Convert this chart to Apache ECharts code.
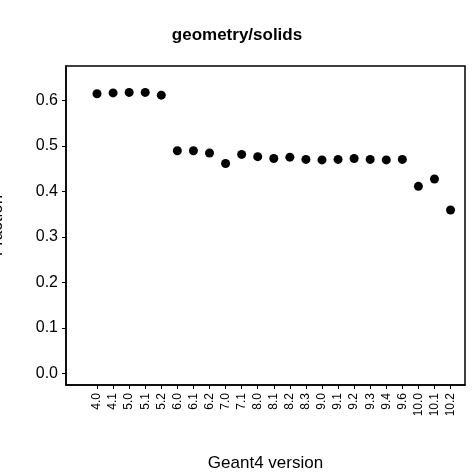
<!DOCTYPE html>
<html>
<head>
<meta charset="UTF-8">
<script src="https://cdn.jsdelivr.net/npm/echarts@6/dist/echarts.min.js"></script>
<style>html,body{margin:0;padding:0;background:#fff}</style>
</head>
<body>
<div id="chart" style="width:474px;height:474px;"></div>
<script>
var versions = ['4.0','4.1','5.0','5.1','5.2','6.0','6.1','6.2','7.0','7.1','8.0','8.1','8.2','8.3','9.0','9.1','9.2','9.3','9.4','9.6','10.0','10.1','10.2'];
var values = [0.614,0.616,0.617,0.617,0.611,0.489,0.489,0.484,0.461,0.481,0.476,0.472,0.475,0.470,0.469,0.470,0.472,0.470,0.469,0.470,0.411,0.427,0.359];
var yTicks = [0, 0.1, 0.2, 0.3, 0.4, 0.5, 0.6];

var chart = echarts.init(document.getElementById('chart'));
var xIdx = versions.map(function (v, i) { return i; });
chart.setOption({
    animation: false,
    title: {
        text: 'geometry/solids', left: 'center', top: 22,
        textStyle: { fontFamily: 'Liberation Sans', fontSize: 17, fontWeight: 'bold', color: '#000' }
    },
    grid: { left: 66, right: 9, top: 66, bottom: 89, outerBoundsMode: 'none', containLabel: false },
    xAxis: {
        type: 'value', min: -1.93, max: 22.9,
        name: 'Geant4 version', nameLocation: 'middle', nameGap: 70,
        nameTextStyle: { fontFamily: 'Liberation Sans', fontSize: 17, color: '#000' },
        axisLine: { onZero: false, lineStyle: { color: '#000', width: 1.5 } },
        axisTick: { customValues: xIdx, length: 4, lineStyle: { color: '#000' } },
        axisLabel: {
            customValues: xIdx, rotate: 90, color: '#000', fontFamily: 'Liberation Sans', fontSize: 12,
            formatter: function (v) { return versions[Math.round(v)]; }
        },
        splitLine: { show: false }
    },
    yAxis: {
        type: 'value', min: -0.025, max: 0.675,
        name: 'Fraction', nameLocation: 'middle', nameGap: 60,
        nameTextStyle: { fontFamily: 'Liberation Sans', fontSize: 17, color: '#000' },
        axisLine: { show: true, onZero: false, lineStyle: { color: '#000', width: 1.5 } },
        axisTick: { customValues: yTicks, length: 4, lineStyle: { color: '#000' } },
        axisLabel: {
            customValues: yTicks, color: '#000', fontFamily: 'Liberation Sans', fontSize: 16,
            formatter: function (v) { return v.toFixed(1); }
        },
        splitLine: { show: false }
    },
    series: [{
        type: 'scatter',
        data: values.map(function (v, i) { return [i, v]; }),
        symbolSize: 9,
        itemStyle: { color: '#000', opacity: 1 }
    }, {
        type: 'line', data: [], markArea: { silent: true, itemStyle: { color: 'transparent', borderColor: '#000', borderWidth: 1.5 },
            data: [[{ coord: [-1.93, -0.025] }, { coord: [22.9, 0.675] }]] }
    }]
});
</script>
</body>
</html>
